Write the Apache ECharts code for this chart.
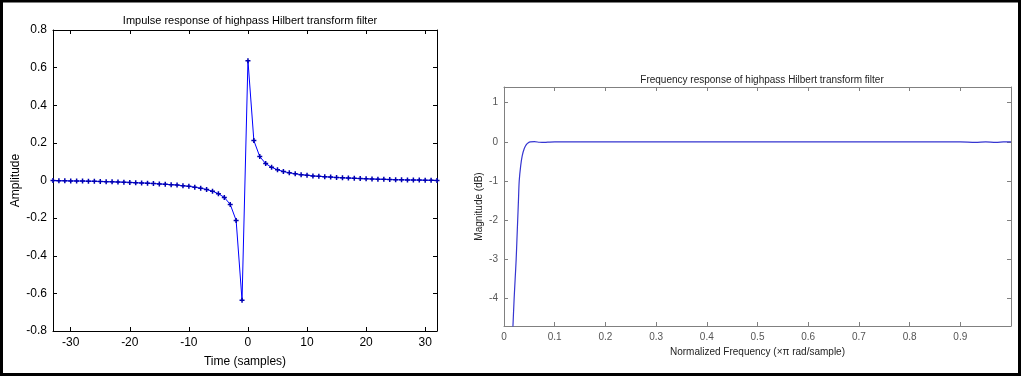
<!DOCTYPE html>
<html>
<head>
<meta charset="utf-8">
<script src="https://cdn.jsdelivr.net/npm/echarts@6/dist/echarts.min.js"></script>
<style>
  html, body { margin: 0; padding: 0; background: #fff; }
  #chart { width: 1024px; height: 378px; }
</style>
</head>
<body>
<div id="chart"></div>
<script>
// impulse response (samples -33..32)
const timeSamples = [-33, -32, -31, -30, -29, -28, -27, -26, -25, -24, -23, -22, -21, -20, -19, -18, -17,
  -16, -15, -14, -13, -12, -11, -10, -9, -8, -7, -6, -5, -4, -3, -2, -1,
  0, 1, 2, 3, 4, 5, 6, 7, 8, 9, 10, 11, 12, 13, 14, 15, 16,
  17, 18, 19, 20, 21, 22, 23, 24, 25, 26, 27, 28, 29, 30, 31, 32]
const amplitude = [-0.0005, -0.001, -0.0015, -0.002, -0.0025, -0.003, -0.0035, -0.004, -0.005, -0.006, -0.007, -0.008, -0.009, -0.010, -0.012, -0.013, -0.014,
  -0.016, -0.018, -0.020, -0.022, -0.024, -0.028, -0.031, -0.036, -0.041, -0.048, -0.057, -0.070, -0.090, -0.127, -0.212, -0.637,
  0.637, 0.212, 0.127, 0.090, 0.070, 0.057, 0.048, 0.041, 0.036, 0.031, 0.028, 0.024, 0.022, 0.020, 0.018, 0.016,
  0.014, 0.013, 0.012, 0.010, 0.009, 0.008, 0.007, 0.006, 0.005, 0.004, 0.0035, 0.003, 0.0025, 0.002, 0.0015, 0.001, 0.0005]
const timeTicks = [-30, -20, -10, 0, 10, 20, 30]

// frequency response
const normFreq = [0.0175, 0.020, 0.022, 0.024, 0.0255, 0.027, 0.0285, 0.030, 0.033, 0.036, 0.040, 0.044, 0.048, 0.052,
  0.060, 0.070, 0.080, 0.090, 0.100, 0.120, 0.150, 0.200, 0.250, 0.300, 0.350, 0.400, 0.450, 0.500,
  0.550, 0.600, 0.650, 0.700, 0.750, 0.800, 0.850, 0.900, 0.930, 0.950, 0.970, 0.985, 1.000]
const magnitudeDb = [-4.75, -4.0, -3.5, -3.0, -2.5, -2.0, -1.5, -1.0, -0.6, -0.35, -0.17, -0.07, -0.02, 0.0,
  0.005, -0.01, -0.015, -0.005, 0.0, 0.0, -0.003, 0.003, -0.003, 0.003, -0.003, 0.003, -0.003, 0.003,
  -0.003, 0.003, -0.003, 0.003, -0.003, 0.003, -0.003, 0.0, -0.015, 0.0, -0.015, -0.003, 0.0]
const freqTicks = [0, 0.1, 0.2, 0.3, 0.4, 0.5, 0.6, 0.7, 0.8, 0.9]
const magTicks = [-4, -3, -2, -1, 0, 1]

const chart = echarts.init(document.getElementById('chart'))

const font = 'Liberation Sans, Arial, sans-serif'
// fat plus marker, like matlab's '+' after jpeg blur
const plus = 'path://M-0.3,-1L0.3,-1L0.3,-0.3L1,-0.3L1,0.3L0.3,0.3L0.3,1L-0.3,1L-0.3,0.3L-1,0.3L-1,-0.3L-0.3,-0.3Z'

// axis helper for the boxed matlab look
function boxAxis(opts) {
  const color = opts.color
  return Object.assign({
    type: 'value',
    axisLine: { show: true, onZero: false, lineStyle: { color: color, width: 1 } },
    axisTick: { show: true, inside: true, length: 4, lineStyle: { color: color }, customValues: opts.ticks },
    axisLabel: { show: opts.labels, customValues: opts.ticks, color: opts.textColor, fontSize: opts.fontSize, fontFamily: font, margin: 6 },
    splitLine: { show: false }
  }, opts.extra)
}

const leftBlack = '#000'
const rightGrey = '#808080'

chart.setOption({
  backgroundColor: '#fff',
  animation: false,
  title: [
    { text: 'Impulse response of highpass Hilbert transform filter', left: 245, top: 10, textAlign: 'center',
      textStyle: { fontSize: 11, fontWeight: 'normal', color: '#000', fontFamily: font } },
    { text: 'Frequency response of highpass Hilbert transform filter', left: 757, top: 70, textAlign: 'center',
      textStyle: { fontSize: 10, fontWeight: 'normal', color: '#222', fontFamily: font } }
  ],
  grid: [
    { left: 53, right: 587, top: 30, bottom: 47 },
    { left: 504, right: 13, top: 87, bottom: 52 }
  ],
  xAxis: [
    boxAxis({ color: leftBlack, textColor: '#000', fontSize: 12, ticks: timeTicks, labels: true,
      extra: { gridIndex: 0, min: -33, max: 32, position: 'bottom', name: 'Time (samples)', nameLocation: 'middle', nameGap: 25,
        nameTextStyle: { fontSize: 12, color: '#000', fontFamily: font } } }),
    boxAxis({ color: leftBlack, ticks: timeTicks, labels: false, extra: { gridIndex: 0, min: -33, max: 32, position: 'top' } }),
    boxAxis({ color: rightGrey, textColor: '#555', fontSize: 10, ticks: freqTicks, labels: true,
      extra: { gridIndex: 1, min: 0, max: 1, position: 'bottom', name: 'Normalized Frequency (\u00d7\u03c0 rad/sample)', nameLocation: 'middle', nameGap: 21,
        nameTextStyle: { fontSize: 10, color: '#222', fontFamily: font } } }),
    boxAxis({ color: rightGrey, ticks: freqTicks, labels: false, extra: { gridIndex: 1, min: 0, max: 1, position: 'top' } })
  ],
  yAxis: [
    boxAxis({ color: leftBlack, textColor: '#000', fontSize: 12, labels: true,
      extra: { gridIndex: 0, min: -0.8, max: 0.8, interval: 0.2, position: 'left', name: 'Amplitude', nameLocation: 'middle', nameGap: 31,
        nameTextStyle: { fontSize: 12, color: '#000', fontFamily: font },
        axisTick: { show: true, inside: true, length: 4, lineStyle: { color: leftBlack } },
        axisLabel: { color: '#000', fontSize: 12, fontFamily: font, margin: 6, formatter: v => Number(v.toFixed(1)).toString() } } }),
    boxAxis({ color: leftBlack, labels: false,
      extra: { gridIndex: 0, min: -0.8, max: 0.8, interval: 0.2, position: 'right',
        axisTick: { show: true, inside: true, length: 4, lineStyle: { color: leftBlack } } } }),
    boxAxis({ color: rightGrey, textColor: '#555', fontSize: 10, ticks: magTicks, labels: true,
      extra: { gridIndex: 1, min: -4.7, max: 1.4, position: 'left', name: 'Magnitude (dB)', nameLocation: 'middle', nameGap: 20,
        nameTextStyle: { fontSize: 10, color: '#222', fontFamily: font } } }),
    boxAxis({ color: rightGrey, ticks: magTicks, labels: false, extra: { gridIndex: 1, min: -4.7, max: 1.4, position: 'right' } })
  ],
  series: [
    {
      type: 'line', xAxisIndex: 0, yAxisIndex: 0,
      data: timeSamples.map((t, i) => [t, amplitude[i]]),
      symbol: plus, symbolSize: 5, showSymbol: true,
      lineStyle: { color: '#0000ff', width: 1 },
      itemStyle: { color: '#0000b0' }
    },
    {
      type: 'line', xAxisIndex: 2, yAxisIndex: 2,
      data: normFreq.map((f, i) => [f, magnitudeDb[i]]),
      symbol: 'none', smooth: 0.3, clip: true,
      lineStyle: { color: '#3535d0', width: 1.2 }
    }
  ],
  graphic: [
    { type: 'rect', shape: { x: 1.5, y: 1, width: 1018, height: 373.5 }, style: { fill: null, stroke: '#000', lineWidth: 3 } }
  ]
})
</script>
</body>
</html>
